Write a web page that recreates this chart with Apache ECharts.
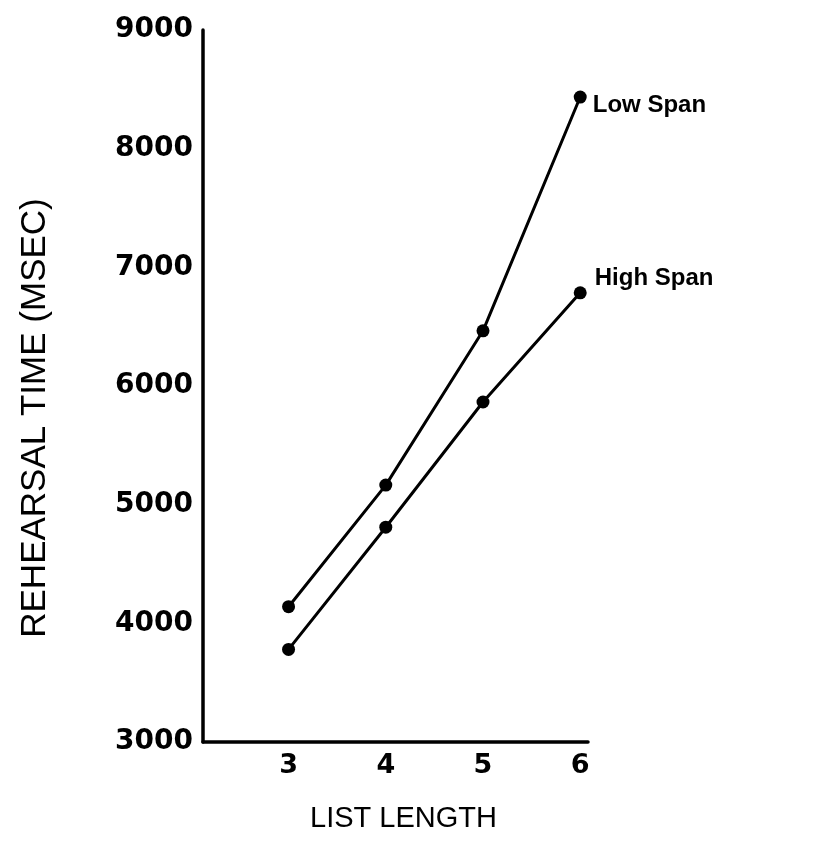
<!DOCTYPE html>
<html>
<head>
<meta charset="utf-8">
<script src="https://cdn.jsdelivr.net/npm/echarts@6/dist/echarts.min.js"></script>
<style>
  html, body { margin: 0; padding: 0; background: #fff; }
  #chart { width: 828px; height: 841px; }
</style>
</head>
<body>
<div id="chart"></div>
<script>
var listLengths = [3, 4, 5, 6];
var lowSpan = [4140, 5165, 6465, 8435];
var highSpan = [3780, 4810, 5865, 6785];
var seriesNames = ['Low Span', 'High Span'];
// nudge of each end label, so they sit as in the drawing
var labelShift = [[0, 8], [2, -14]];

function toPoints(values, name, shift) {
    var pts = [];
    for (var i = 0; i < listLengths.length; i++) {
        var item = { value: [listLengths[i], values[i]] };
        if (i == listLengths.length - 1) {
            item.label = {
                show: true,
                position: 'right',
                distance: 6,
                offset: shift,
                formatter: name,
                color: '#000',
                fontFamily: 'Liberation Sans',
                fontWeight: 'bold',
                fontSize: 24
            };
        }
        pts.push(item);
    }
    return pts;
}

var lineStyle = { color: '#000', width: 3 };

var option = {
    backgroundColor: '#fff',
    animation: false,
    grid: { left: 203, right: 240, top: 30, bottom: 99 },
    xAxis: {
        type: 'value',
        min: 2.12,
        max: 6.08,
        name: 'LIST LENGTH',
        nameLocation: 'middle',
        nameGap: 62,
        nameTextStyle: {
            color: '#000',
            fontFamily: 'Liberation Sans',
            fontSize: 29,
            padding: [0, 0, 0, 16]
        },
        axisLine: { lineStyle: { color: '#000', width: 3.5 } },
        axisTick: { show: false },
        splitLine: { show: false },
        axisLabel: {
            customValues: listLengths,
            color: '#000',
            fontFamily: 'DejaVu Sans',
            fontWeight: 'bold',
            fontSize: 27,
            margin: 10
        }
    },
    yAxis: {
        type: 'value',
        min: 3000,
        max: 9000,
        interval: 1000,
        name: 'REHEARSAL TIME (MSEC)',
        nameLocation: 'middle',
        nameGap: 150,
        nameTextStyle: {
            color: '#000',
            fontFamily: 'Liberation Sans',
            fontSize: 35,
            padding: [0, 64, 0, 0]
        },
        axisLine: { show: true, lineStyle: { color: '#000', width: 3.5 } },
        axisTick: { show: false },
        splitLine: { show: false },
        axisLabel: {
            formatter: function (v) { return String(v); },
            color: '#000',
            fontFamily: 'DejaVu Sans',
            fontWeight: 'bold',
            fontSize: 28,
            margin: 10
        }
    },
    series: [
        {
            name: seriesNames[0],
            type: 'line',
            symbol: 'circle',
            symbolSize: 13,
            itemStyle: { color: '#000' },
            lineStyle: lineStyle,
            data: toPoints(lowSpan, seriesNames[0], labelShift[0])
        },
        {
            name: seriesNames[1],
            type: 'line',
            symbol: 'circle',
            symbolSize: 13,
            itemStyle: { color: '#000' },
            lineStyle: lineStyle,
            data: toPoints(highSpan, seriesNames[1], labelShift[1])
        }
    ]
};

var myChart = echarts.init(document.getElementById('chart'));
myChart.setOption(option);
</script>
</body>
</html>
